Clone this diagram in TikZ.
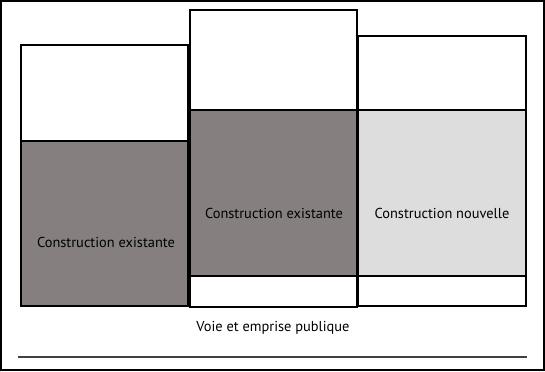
\documentclass[tikz,border=0pt]{standalone}
\usepackage{fontspec}
\setmainfont{PT Sans}
\definecolor{existgrey}{RGB}{133,128,127}
\definecolor{newgrey}{RGB}{221,221,221}
\begin{document}
\begin{tikzpicture}[x=0.75pt,y=0.75pt,yscale=-1,xscale=1,
  wall/.style={draw=black,line width=1.1pt},
  label/.style={inner sep=0.75pt,font=\fontsize{10.8}{12}\selectfont}]
\useasboundingbox (0,0) rectangle (545,371);

%Shape: Rectangle [frame]
\draw [line width=1.2pt] (1,1) rectangle (544,370) ;
%Shape: Rectangle [left, upper]
\draw [wall] (21,45) rectangle (188,141) ;
%Shape: Rectangle [left, built]
\draw [wall, fill=existgrey] (21,141) rectangle (188,306) ;
%Shape: Rectangle [middle, upper]
\draw [wall] (190,10) rectangle (357,110) ;
%Shape: Rectangle [middle, built]
\draw [wall, fill=existgrey] (190,110) rectangle (357,276) ;
%Shape: Rectangle [middle, lower]
\draw [wall] (190,276) rectangle (357,307) ;
%Shape: Rectangle [right, upper]
\draw [wall] (358,36) rectangle (526,110) ;
%Shape: Rectangle [right, built]
\draw [wall, fill=newgrey] (358,110) rectangle (526,276) ;
%Shape: Rectangle [right, lower]
\draw [wall] (358,276) rectangle (526,306) ;
%Straight Lines [road edge]
\coordinate (roadL) at (18,357) ;
\coordinate (roadR) at (527,357) ;
\draw [line width=1.1pt, color=black!75] (roadL) -- (roadR) ;

% Text Node
\node [label] (exleft) at (106,242) {Construction existante};
% Text Node
\node [label] (exmid) at (274,213) {Construction existante};
% Text Node
\node [label] (newright) at (442,213) {Construction nouvelle};
% Text Node
\node [label] (voie) at (273,328) {Voie et emprise publique};

\end{tikzpicture}
\end{document}
